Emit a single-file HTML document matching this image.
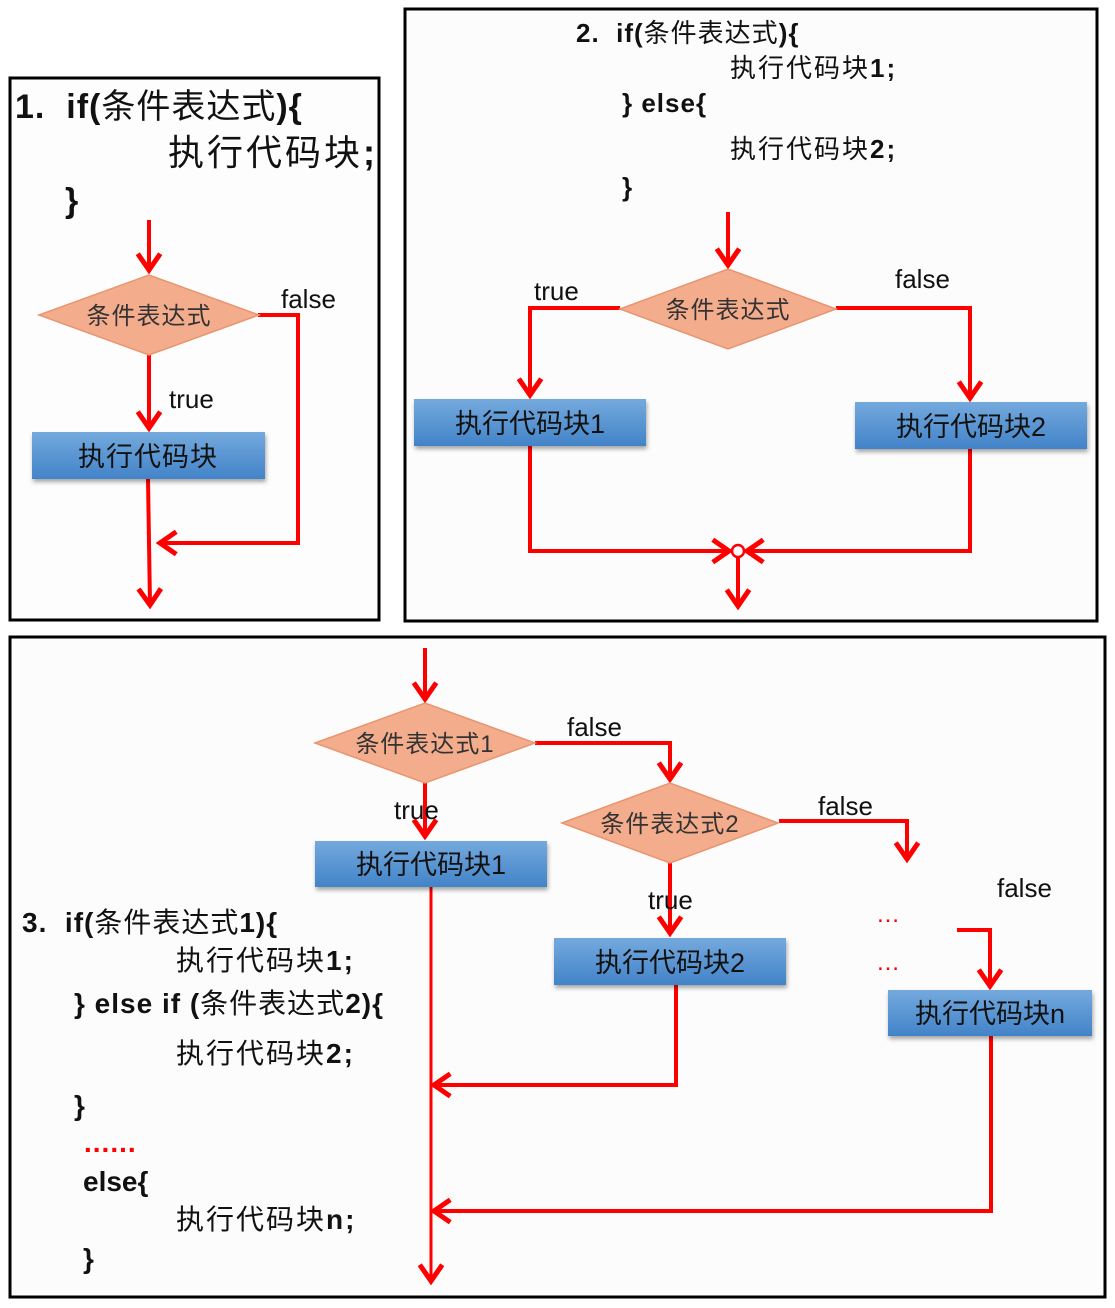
<!DOCTYPE html>
<html><head><meta charset="utf-8"><style>
body{margin:0;background:#fff}
svg{display:block}
text{font-family:"Liberation Sans","Noto Sans CJK SC",sans-serif}
.c{font-weight:bold;fill:#111}
.n{font-weight:normal}
.lbl{font-size:26px;fill:#111}
.dt{font-size:24px;fill:#333;letter-spacing:1px}
.bt{font-size:27px;fill:#111}
</style></head><body>
<svg width="1115" height="1308" viewBox="0 0 1115 1308">
<defs>
<marker id="a" markerUnits="userSpaceOnUse" markerWidth="30" markerHeight="30" refX="0" refY="0" viewBox="-16 -12 20 24" orient="auto">
<path d="M-13,-9 L0,0 L-13,9" fill="none" stroke="#f00" stroke-width="4"/>
</marker>
<linearGradient id="g" x1="0" y1="0" x2="0" y2="1">
<stop offset="0" stop-color="#74a9dd"/><stop offset="1" stop-color="#4283c8"/>
</linearGradient>
<filter id="s" x="-5%" y="-20%" width="110%" height="150%"><feDropShadow dx="1" dy="3" stdDeviation="2" flood-color="#000" flood-opacity="0.35"/></filter>
</defs>
<rect x="0" y="0" width="1115" height="1308" fill="#fff"/>
<rect x="10" y="78" width="369" height="542" fill="#fdfdfd" stroke="#000" stroke-width="3"/>
<rect x="405" y="9" width="692" height="612" fill="#fcfcfc" stroke="#000" stroke-width="3"/>
<rect x="10" y="637" width="1095" height="660" fill="#fcfcfc" stroke="#000" stroke-width="3"/>

<!-- panel 1 -->
<text class="c" x="15" y="118" font-size="34" letter-spacing="1">1.&#160;&#160;if(<tspan class="n">条件表达式</tspan>){</text>
<text class="c" x="168" y="165" font-size="36" letter-spacing="3"><tspan class="n">执行代码块</tspan>;</text>
<text class="c" x="65" y="212" font-size="34">}</text>
<g stroke="#f00" stroke-width="4" fill="none">
<line x1="149" y1="220" x2="149" y2="270" marker-end="url(#a)"/>
<line x1="149" y1="355" x2="149" y2="428" marker-end="url(#a)"/>
<polyline points="258,315 298,315 298,543 160,543" marker-end="url(#a)"/>
<line x1="148" y1="479" x2="150" y2="605" marker-end="url(#a)"/>
</g>
<polygon points="39,315 149,275 259,315 149,355" fill="#f3ac8c" stroke="#e9956f" stroke-width="1.5"/>
<text class="dt" x="149" y="324" text-anchor="middle">条件表达式</text>
<text class="lbl" x="281" y="308">false</text>
<text class="lbl" x="169" y="408">true</text>
<rect x="32" y="432" width="233" height="47" fill="url(#g)" filter="url(#s)"/>
<text class="bt" x="148" y="466" text-anchor="middle" letter-spacing="1">执行代码块</text>

<!-- panel 2 -->
<text class="c" x="576" y="42" font-size="26" letter-spacing="1">2.&#160;&#160;if(<tspan class="n">条件表达式</tspan>){</text>
<text class="c" x="730" y="77" font-size="26" letter-spacing="2"><tspan class="n">执行代码块</tspan>1;</text>
<text class="c" x="622" y="112" font-size="26" letter-spacing="1">} else{</text>
<text class="c" x="730" y="158" font-size="26" letter-spacing="2"><tspan class="n">执行代码块</tspan>2;</text>
<text class="c" x="622" y="196" font-size="26">}</text>
<g stroke="#f00" stroke-width="4" fill="none">
<line x1="728" y1="212" x2="728" y2="265" marker-end="url(#a)"/>
<polyline points="620,308 530,308 530,395" marker-end="url(#a)"/>
<polyline points="836,308 970,308 970,398" marker-end="url(#a)"/>
<polyline points="530,446 530,551 729,551" marker-end="url(#a)"/>
<polyline points="970,449 970,551 747,551" marker-end="url(#a)"/>
<line x1="738" y1="557" x2="738" y2="606" marker-end="url(#a)"/>
</g>
<circle cx="738" cy="551" r="6" fill="#fff" stroke="#f00" stroke-width="2.5"/>
<polygon points="620,309 728,269 836,309 728,349" fill="#f3ac8c" stroke="#e9956f" stroke-width="1.5"/>
<text class="dt" x="728" y="318" text-anchor="middle">条件表达式</text>
<text class="lbl" x="534" y="300">true</text>
<text class="lbl" x="895" y="288">false</text>
<rect x="414" y="399" width="232" height="47" fill="url(#g)" filter="url(#s)"/>
<text class="bt" x="530" y="433" text-anchor="middle">执行代码块1</text>
<rect x="855" y="402" width="232" height="47" fill="url(#g)" filter="url(#s)"/>
<text class="bt" x="971" y="436" text-anchor="middle">执行代码块2</text>

<!-- panel 3 -->
<g stroke="#f00" stroke-width="4" fill="none">
<line x1="425" y1="648" x2="425" y2="699" marker-end="url(#a)"/>
<line x1="425" y1="783" x2="425" y2="836" marker-end="url(#a)"/>
<polyline points="535,743 670,743 670,779" marker-end="url(#a)"/>
<polyline points="779,821 907,821 907,859" marker-end="url(#a)"/>
<line x1="670" y1="863" x2="670" y2="933" marker-end="url(#a)"/>
<line x1="431" y1="887" x2="431" y2="1281" stroke-width="3" marker-end="url(#a)"/>
<polyline points="676,985 676,1085 434,1085" marker-end="url(#a)"/>
<polyline points="991,1036 991,1211 434,1211" marker-end="url(#a)"/>
<polyline points="957,930 990,930 990,986" marker-end="url(#a)"/>
</g>
<polygon points="315,743 425,703 535,743 425,783" fill="#f3ac8c" stroke="#e9956f" stroke-width="1.5"/>
<text class="dt" x="425" y="752" text-anchor="middle">条件表达式1</text>
<polygon points="562,823 670,783 778,823 670,863" fill="#f3ac8c" stroke="#e9956f" stroke-width="1.5"/>
<text class="dt" x="670" y="832" text-anchor="middle">条件表达式2</text>
<text class="lbl" x="567" y="736">false</text>
<text class="lbl" x="394" y="819">true</text>
<text class="lbl" x="818" y="815">false</text>
<text class="lbl" x="648" y="909">true</text>
<text class="lbl" x="997" y="897">false</text>
<text x="876" y="922" font-size="24" fill="#f00" letter-spacing="2">…</text>
<text x="876" y="970" font-size="24" fill="#f00" letter-spacing="2">…</text>
<rect x="315" y="841" width="232" height="46" fill="url(#g)" filter="url(#s)"/>
<text class="bt" x="431" y="874" text-anchor="middle">执行代码块1</text>
<rect x="554" y="938" width="232" height="47" fill="url(#g)" filter="url(#s)"/>
<text class="bt" x="670" y="972" text-anchor="middle">执行代码块2</text>
<rect x="888" y="990" width="204" height="46" fill="url(#g)" filter="url(#s)"/>
<text class="bt" x="990" y="1023" text-anchor="middle">执行代码块n</text>

<text class="c" x="22" y="932" font-size="28" letter-spacing="1">3.&#160;&#160;if(<tspan class="n">条件表达式</tspan>1){</text>
<text class="c" x="176" y="970" font-size="28" letter-spacing="2"><tspan class="n">执行代码块</tspan>1;</text>
<text class="c" x="74" y="1013" font-size="28" letter-spacing="1">} else if (<tspan class="n">条件表达式</tspan>2){</text>
<text class="c" x="176" y="1063" font-size="28" letter-spacing="2"><tspan class="n">执行代码块</tspan>2;</text>
<text class="c" x="74" y="1115" font-size="28">}</text>
<text x="84" y="1152" font-size="28" font-weight="bold" fill="#f00" letter-spacing="1">......</text>
<text class="c" x="83" y="1191" font-size="28">else{</text>
<text class="c" x="176" y="1229" font-size="28" letter-spacing="2"><tspan class="n">执行代码块</tspan>n;</text>
<text class="c" x="83" y="1268" font-size="28">}</text>
</svg>
</body></html>
